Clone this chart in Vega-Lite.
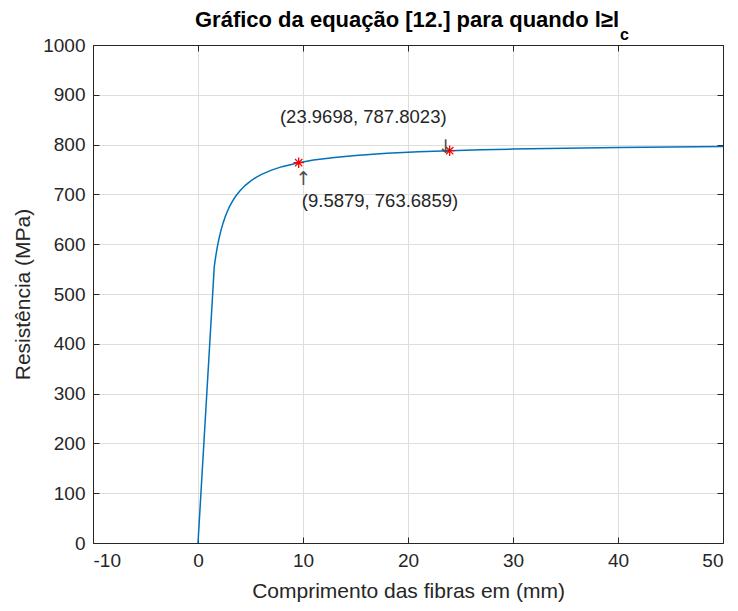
{
  "$schema": "https://vega.github.io/schema/vega-lite/v6.json",
  "width": 630,
  "height": 498,
  "autosize": "none",
  "padding": {"left": 93, "top": 45, "right": 15, "bottom": 68},
  "background": "white",
  "config": {
    "view": {"stroke": null},
    "axis": {
      "domainColor": "#262626",
      "tickColor": "#262626",
      "labelColor": "#262626",
      "titleColor": "#262626",
      "labelFont": "Liberation Sans",
      "titleFont": "Liberation Sans",
      "labelFontSize": 19,
      "titleFontSize": 21,
      "titleFontWeight": "normal",
      "gridColor": "#dedede",
      "gridWidth": 1,
      "domainWidth": 1,
      "tickWidth": 1
    }
  },
  "datasets": {
    "curve": [
      {"l": 0, "s": 0},
      {"l": 1.55, "s": 555.3},
      {"l": 1.7, "s": 577.2},
      {"l": 1.85, "s": 595.6},
      {"l": 2.0, "s": 611.2},
      {"l": 2.2, "s": 628.7},
      {"l": 2.4, "s": 643.3},
      {"l": 2.6, "s": 655.7},
      {"l": 2.8, "s": 666.3},
      {"l": 3.0, "s": 675.4},
      {"l": 3.3, "s": 687.1},
      {"l": 3.6, "s": 696.8},
      {"l": 4.0, "s": 707.5},
      {"l": 4.5, "s": 718.2},
      {"l": 5.0, "s": 726.8},
      {"l": 5.5, "s": 733.8},
      {"l": 6.0, "s": 739.7},
      {"l": 7.0, "s": 748.8},
      {"l": 8.0, "s": 755.7},
      {"l": 9.5879, "s": 763.6859},
      {"l": 11, "s": 768.9},
      {"l": 13, "s": 774.2},
      {"l": 15, "s": 778.2},
      {"l": 18, "s": 782.5},
      {"l": 21, "s": 785.5},
      {"l": 23.9698, "s": 787.8023},
      {"l": 27, "s": 789.6},
      {"l": 30, "s": 791.0},
      {"l": 35, "s": 792.9},
      {"l": 40, "s": 794.2},
      {"l": 45, "s": 795.3},
      {"l": 50, "s": 796.2}
    ],
    "tips": [
      {"l": 9.5879, "s": 763.6859},
      {"l": 23.9698, "s": 787.8023}
    ],
    "tipText": [
      {"l": 15.74, "s": 855, "t": "(23.9698, 787.8023)"},
      {"l": 17.33, "s": 686, "t": "(9.5879, 763.6859)"}
    ],
    "arrows": [
      {"l": 23.6, "s": 795, "t": "↓"},
      {"l": 10.05, "s": 731, "t": "↑"}
    ],
    "titleMain": [
      {"l": 40.1, "s": 1036.5, "t": "Gráfico da equação [12.] para quando l≥l"}
    ],
    "sub": [
      {"l": 40.2, "s": 1010, "t": "c"}
    ]
  },
  "resolve": {"axis": {"x": "independent", "y": "independent"}},
  "layer": [
    {
      "data": {"name": "curve"},
      "mark": {"type": "line", "color": "#0072BD", "strokeWidth": 1.5, "clip": true},
      "encoding": {
        "x": {
          "field": "l", "type": "quantitative",
          "scale": {"domain": [-10, 50], "nice": false, "zero": false},
          "axis": {
            "orient": "bottom",
            "values": [-10, 0, 10, 20, 30, 40, 50],
            "labelExpr": "datum.value + ''",
            "grid": true,
            "tickSize": -6,
            "labelPadding": 14,
            "title": "Comprimento das fibras em (mm)",
            "titlePadding": 10
          }
        },
        "y": {
          "field": "s", "type": "quantitative",
          "scale": {"domain": [0, 1000], "nice": false},
          "axis": {
            "orient": "left",
            "values": [0, 100, 200, 300, 400, 500, 600, 700, 800, 900, 1000],
            "labelExpr": "datum.value + ''",
            "grid": true,
            "tickSize": -6,
            "labelPadding": 14,
            "title": "Resistência (MPa)",
            "titlePadding": 9
          }
        }
      }
    },
    {
      "data": {"name": "tips"},
      "mark": {
        "type": "point",
        "shape": "M-1,0L1,0M0,-1L0,1M-0.7,-0.7L0.7,0.7M-0.7,0.7L0.7,-0.7",
        "filled": false,
        "stroke": "#ff0000",
        "strokeWidth": 1.3,
        "size": 110,
        "opacity": 1
      },
      "encoding": {
        "x": {
          "field": "l", "type": "quantitative",
          "axis": {"orient": "top", "labels": false, "grid": false, "tickSize": -6, "title": null, "values": [-10, 0, 10, 20, 30, 40, 50]}
        },
        "y": {
          "field": "s", "type": "quantitative",
          "axis": {"orient": "right", "labels": false, "grid": false, "tickSize": -6, "title": null, "values": [0, 100, 200, 300, 400, 500, 600, 700, 800, 900, 1000]}
        }
      }
    },
    {
      "data": {"name": "tipText"},
      "mark": {"type": "text", "font": "Liberation Sans", "fontSize": 18.5, "color": "#262626", "align": "center", "baseline": "middle"},
      "encoding": {
        "x": {"field": "l", "type": "quantitative", "axis": null},
        "y": {"field": "s", "type": "quantitative", "axis": null},
        "text": {"field": "t"}
      }
    },
    {
      "data": {"name": "arrows"},
      "mark": {"type": "text", "font": "DejaVu Sans", "fontSize": 19, "color": "#505050", "align": "center", "baseline": "middle"},
      "encoding": {
        "x": {"field": "l", "type": "quantitative", "axis": null},
        "y": {"field": "s", "type": "quantitative", "axis": null},
        "text": {"field": "t"}
      }
    },
    {
      "data": {"name": "titleMain"},
      "mark": {"type": "text", "font": "Liberation Sans", "fontSize": 22, "fontWeight": "bold", "color": "#000000", "align": "right", "baseline": "alphabetic"},
      "encoding": {
        "x": {"field": "l", "type": "quantitative", "axis": null},
        "y": {"field": "s", "type": "quantitative", "axis": null},
        "text": {"field": "t"}
      }
    },
    {
      "data": {"name": "sub"},
      "mark": {"type": "text", "font": "Liberation Sans", "fontSize": 16, "fontWeight": "bold", "color": "#000000", "align": "left", "baseline": "alphabetic"},
      "encoding": {
        "x": {"field": "l", "type": "quantitative", "axis": null},
        "y": {"field": "s", "type": "quantitative", "axis": null},
        "text": {"field": "t"}
      }
    }
  ]
}
